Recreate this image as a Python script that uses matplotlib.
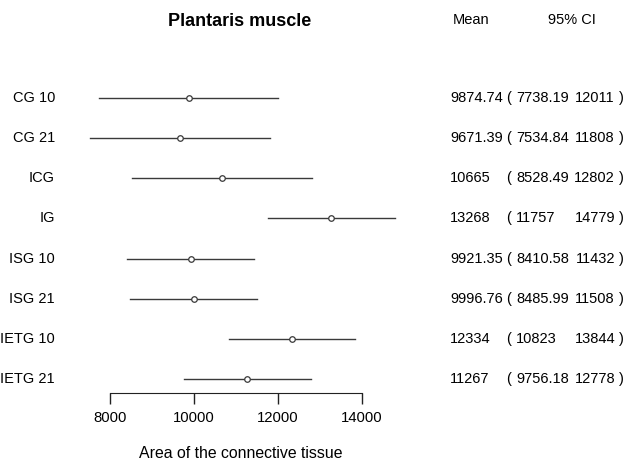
import numpy as np
import matplotlib.pyplot as plt
from matplotlib.transforms import blended_transform_factory

plt.rcParams['font.family'] = ['Liberation Sans', 'DejaVu Sans']

groups = ["CG 10", "CG 21", "ICG", "IG", "ISG 10", "ISG 21", "IETG 10", "IETG 21"]
mean = [9874.74, 9671.39, 10665, 13268, 9921.35, 9996.76, 12334, 11267]
lower = [7738.19, 7534.84, 8528.49, 11757, 8410.58, 8485.99, 10823, 9756.18]
upper = [12011, 11808, 12802, 14779, 11432, 11508, 13844, 12778]
mean_txt = ["9874.74", "9671.39", "10665", "13268", "9921.35", "9996.76", "12334", "11267"]
lower_txt = ["7738.19", "7534.84", "8528.49", "11757", "8410.58", "8485.99", "10823", "9756.18"]
upper_txt = ["12011", "11808", "12802", "14779", "11432", "11508", "13844", "12778"]
xticks = [8000, 10000, 12000, 14000]

W, H = 627, 472
fig = plt.figure(figsize=(W / 100, H / 100), dpi=100)

# axes: x from px 110 (8000) to 362 (14000), y from px 58 to 393
ax = fig.add_axes([110 / W, (H - 393) / H, (362 - 110) / W, (393 - 58) / H])
ax.set_xlim(8000, 14000)
ax.set_ylim(7.35, -1)

y = np.arange(len(groups))
for i in range(len(groups)):
    ax.plot([lower[i], upper[i]], [y[i], y[i]], color='#3a3a3a', lw=1, clip_on=False)
ax.plot(mean, y, 'o', ms=4, mfc='white', mec='#3a3a3a', mew=0.9, clip_on=False)

for s in ['top', 'left', 'right']:
    ax.spines[s].set_visible(False)
ax.spines['bottom'].set_bounds(8000, 14000)
ax.spines['bottom'].set_color('#222222')
ax.set_yticks([])
ax.set_xticks(xticks)
ax.set_xticklabels([str(t) for t in xticks])
ax.tick_params(axis='x', direction='out', length=8, width=1, color='#222222',
               labelsize=10.7, pad=5)
ax.patch.set_alpha(0)

tr = blended_transform_factory(fig.transFigure, ax.transData)
fs = 10.5
for i in range(len(groups)):
    ax.text(55 / W, y[i], groups[i], transform=tr, ha='right', va='center', fontsize=fs)
    ax.text(450 / W, y[i], mean_txt[i], transform=tr, ha='left', va='center', fontsize=fs)
    ax.text(506 / W, y[i], "(", transform=tr, ha='left', va='center', fontsize=fs)
    ax.text(516 / W, y[i], lower_txt[i], transform=tr, ha='left', va='center', fontsize=fs)
    ax.text(615 / W, y[i], upper_txt[i], transform=tr, ha='right', va='center', fontsize=fs)
    ax.text(619 / W, y[i], ")", transform=tr, ha='left', va='center', fontsize=fs)

fig.text(240 / W, 1 - 22 / H, "Plantaris muscle", ha='center', va='center',
         fontsize=13, fontweight='bold')
fig.text(471 / W, 1 - 20 / H, "Mean", ha='center', va='center', fontsize=fs)
fig.text(572 / W, 1 - 20 / H, "95% CI", ha='center', va='center', fontsize=fs)
fig.text(241 / W, 1 - 453 / H, "Area of the connective tissue", ha='center', va='center',
         fontsize=11.4)

fig.savefig("out.png", dpi=100)
